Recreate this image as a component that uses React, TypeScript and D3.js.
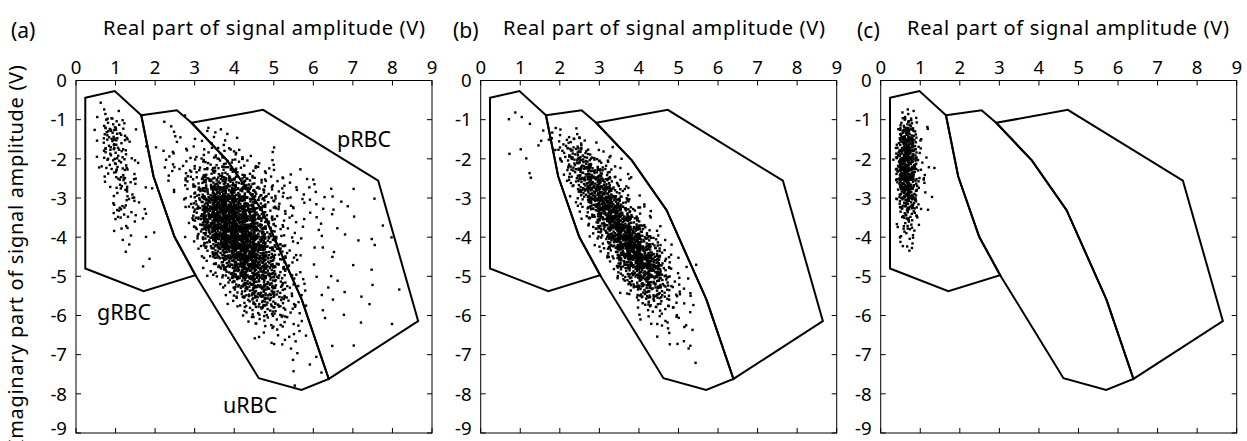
import React from "react";
import * as d3 from "d3";

// axis ticks (volts)
const X_TICKS = [0, 1, 2, 3, 4, 5, 6, 7, 8, 9];
const Y_TICKS = [0, -1, -2, -3, -4, -5, -6, -7, -8, -9];

// gating polygons, [real, imaginary] in V
const G_RBC = [
  [0.235, -0.44], [0.98, -0.27], [1.65, -0.89], [1.96, -2.45], [2.49, -3.99],
  [3.02, -4.97], [1.71, -5.38], [0.235, -4.8],
];
const U_RBC = [
  [1.65, -0.89], [2.55, -0.76], [2.92, -1.08], [3.82, -2.04], [4.7, -3.31],
  [5.71, -5.6], [6.39, -7.62], [5.7, -7.9], [4.62, -7.6], [3.02, -4.97],
  [2.49, -3.99], [1.96, -2.45],
];
const P_RBC = [
  [2.92, -1.08], [4.73, -0.75], [7.64, -2.56], [8.65, -6.14], [6.39, -7.62],
  [5.71, -5.6], [4.7, -3.31], [3.82, -2.04],
];

// scatter density: one entry per row of cells
// (row i covers imaginary -i*dy .. -(i+1)*dy), [first column, levels 0-9]
const LEVEL_COUNTS = [0, 1, 2, 4, 7, 10, 15, 22, 32, 46];

const DENSITY_A = [ // dx = dy = 0.25 V
  [0, ""], [0, ""], [2, "1"], [2, "221.....1"], [2, "1531...2...1"],
  [2, "1641...11.1221"], [2, "25411..12111221"], [2, "2441..1222233332.11"],
  [2, "14421.1222344432211.1"], [2, "13421..2234555433221.1"],
  [3, "24311.12356776543221111"], [3, "1331...1357887653322211..1"],
  [3, "1331...126899876432212111.1"], [4, "4311...2689998643211111"],
  [4, "221....25899987532211.11"], [4, "12.1...147999975321.1..1.1.1"],
  [4, "111.....368999864221.1..1.11"], [5, "1......24789986431.1.1"],
  [6, "11.....35789875321..1"], [13, "2468887531.1..1..1"],
  [14, "2467765321.11"], [14, "1256765321.1.11.1.1"], [15, "13566532.1.1..1"],
  [16, "234543211..1"], [17, "233322.1....1"], [18, "222211.......1"],
  [18, "11221..1"], [20, "111....1"], [22, "111"], [21, "1"], [22, "1.1"],
];

const DENSITY_B = [ // dx = dy = 0.25 V
  [0, ""], [0, ""], [0, ""], [3, "11"], [2, "1..1...1"], [6, "1322"],
  [5, "1124431.1"], [3, "21...465321"], [8, "3675321"], [4, "11..25775311"],
  [8, "14787421"], [9, "2688632"], [9, "14798521"], [10, "36897421"],
  [10, "14798631"], [11, "36898521"], [11, "147997421"], [12, "35898631"],
  [12, "137898421"], [13, "257885211"], [14, "3677531"], [14, "14665321"],
  [15, "2454311"], [16, "233221"], [16, "12221"], [17, "11111"], [18, "2.11"],
  [19, "1.1"], [21, "1"],
];

const DENSITY_C = [ // dx = 0.1 V, dy = 0.25 V
  [0, ""], [0, ""], [0, ""], [5, "1221"], [4, "134421.1"], [4, "256531..1"],
  [4, "3676421"], [3, "146764211"], [3, "14776521.1"], [3, "147764211.1"],
  [4, "36764211"], [4, "356642.11"], [4, "2455421"], [4, "134431.1"],
  [4, "123321"], [4, "12222"], [4, "11121"], [5, "1.1"],
];

const REGION_LABELS = [
  { text: "pRBC", x: 337, y: 147 },
  { text: "gRBC", x: 97, y: 320 },
  { text: "uRBC", x: 223, y: 413 },
];

const TITLE = "Real part of signal amplitude (V)";
const Y_LABEL = "Imaginary part of signal amplitude (V)";

const FONT = "'Noto Sans', 'Open Sans', sans-serif";
const TOP = 80.5;
const BOTTOM = 433;
const PLOT_W = 356;
const DOT = 2.4;

function halton(i: number, b: number) {
  let f = 1;
  let r = 0;
  while (i > 0) {
    f /= b;
    r += f * (i % b);
    i = Math.floor(i / b);
  }
  return r;
}

function cellPoints(rows: (number | string)[][], dx: number, dy: number) {
  const pts: [number, number][] = [];
  let k = 1;
  rows.forEach(([start, s], i) => {
    const str = s as string;
    for (let c = 0; c < str.length; c++) {
      if (str[c] === ".") continue;
      const n = LEVEL_COUNTS[+str[c]];
      const j = (start as number) + c;
      for (let m = 0; m < n; m++) {
        const u = halton(k, 2);
        const v = halton(k, 3);
        k++;
        pts.push([(j - 0.2 + 1.4 * u) * dx, -(i - 0.2 + 1.4 * v) * dy]);
      }
    }
  });
  return pts;
}

function Panel({ left, letter, letterX, titleX, rows, dx, dy, labels }: any) {
  const x = d3.scaleLinear().domain([0, 9]).range([left, left + PLOT_W]);
  const y = d3.scaleLinear().domain([0, -9]).range([TOP, BOTTOM]);
  const pts = React.useMemo(() => cellPoints(rows, dx, dy), [rows, dx, dy]);
  const line = d3
    .line<number[]>()
    .x((d) => x(d[0]))
    .y((d) => y(d[1]))
    .curve(d3.curveLinearClosed);
  const clipId = `clip-${letter}`;

  return (
    <g>
      <text x={letterX} y={38} fontSize={21}>({letter})</text>
      <text x={titleX} y={35} fontSize={20} textLength={322} lengthAdjust="spacing">
        {TITLE}
      </text>
      <defs>
        <clipPath id={clipId}>
          <rect x={left} y={TOP} width={PLOT_W} height={BOTTOM - TOP} />
        </clipPath>
      </defs>
      <g clipPath={`url(#${clipId})`}>
        {pts.map((p, i) => (
          <rect key={i} x={x(p[0]) - DOT / 2} y={y(p[1]) - DOT / 2} width={DOT} height={DOT} fill="#000" />
        ))}
      </g>
      {[G_RBC, U_RBC, P_RBC].map((poly, i) => (
        <path key={i} d={line(poly) ?? ""} fill="none" stroke="#000" strokeWidth={2} />
      ))}
      <rect x={left} y={TOP} width={PLOT_W} height={BOTTOM - TOP} fill="none" stroke="#000" strokeWidth={1} />
      {X_TICKS.map((t) => (
        <g key={`x${t}`}>
          <line x1={x(t)} x2={x(t)} y1={TOP} y2={TOP + 5} stroke="#000" />
          <line x1={x(t)} x2={x(t)} y1={BOTTOM} y2={BOTTOM - 5} stroke="#000" />
          <text x={x(t)} y={74} textAnchor="middle" fontSize={18.6}>{t}</text>
        </g>
      ))}
      {Y_TICKS.map((t) => (
        <g key={`y${t}`}>
          <line x1={left} x2={left + 5} y1={y(t)} y2={y(t)} stroke="#000" />
          <line x1={left + PLOT_W} x2={left + PLOT_W - 5} y1={y(t)} y2={y(t)} stroke="#000" />
          <text x={left - 9} y={Math.min(y(t), 428)} dy="0.36em" textAnchor="end" fontSize={18.6}>{t}</text>
        </g>
      ))}
      {labels.map((l: any) => (
        <text key={l.text} x={l.x} y={l.y} fontSize={21.5}>{l.text}</text>
      ))}
    </g>
  );
}

export default function App() {
  return (
    <div style={{ position: "absolute", left: 0, top: 0 }}>
      <svg width={1247} height={441} style={{ display: "block", fontFamily: FONT }}>
        <rect width={1247} height={441} fill="#fff" />
        <text
          transform={`translate(23,${(TOP + BOTTOM) / 2 - 1}) rotate(-90)`}
          textAnchor="middle"
          fontSize={20}
          textLength={381}
          lengthAdjust="spacing"
        >
          {Y_LABEL}
        </text>
        <Panel left={76} letter="a" letterX={11} titleX={103} rows={DENSITY_A} dx={0.25} dy={0.25} labels={REGION_LABELS} />
        <Panel left={480.7} letter="b" letterX={453} titleX={503} rows={DENSITY_B} dx={0.25} dy={0.25} labels={[]} />
        <Panel left={880.7} letter="c" letterX={857} titleX={907} rows={DENSITY_C} dx={0.1} dy={0.25} labels={[]} />
      </svg>
    </div>
  );
}
